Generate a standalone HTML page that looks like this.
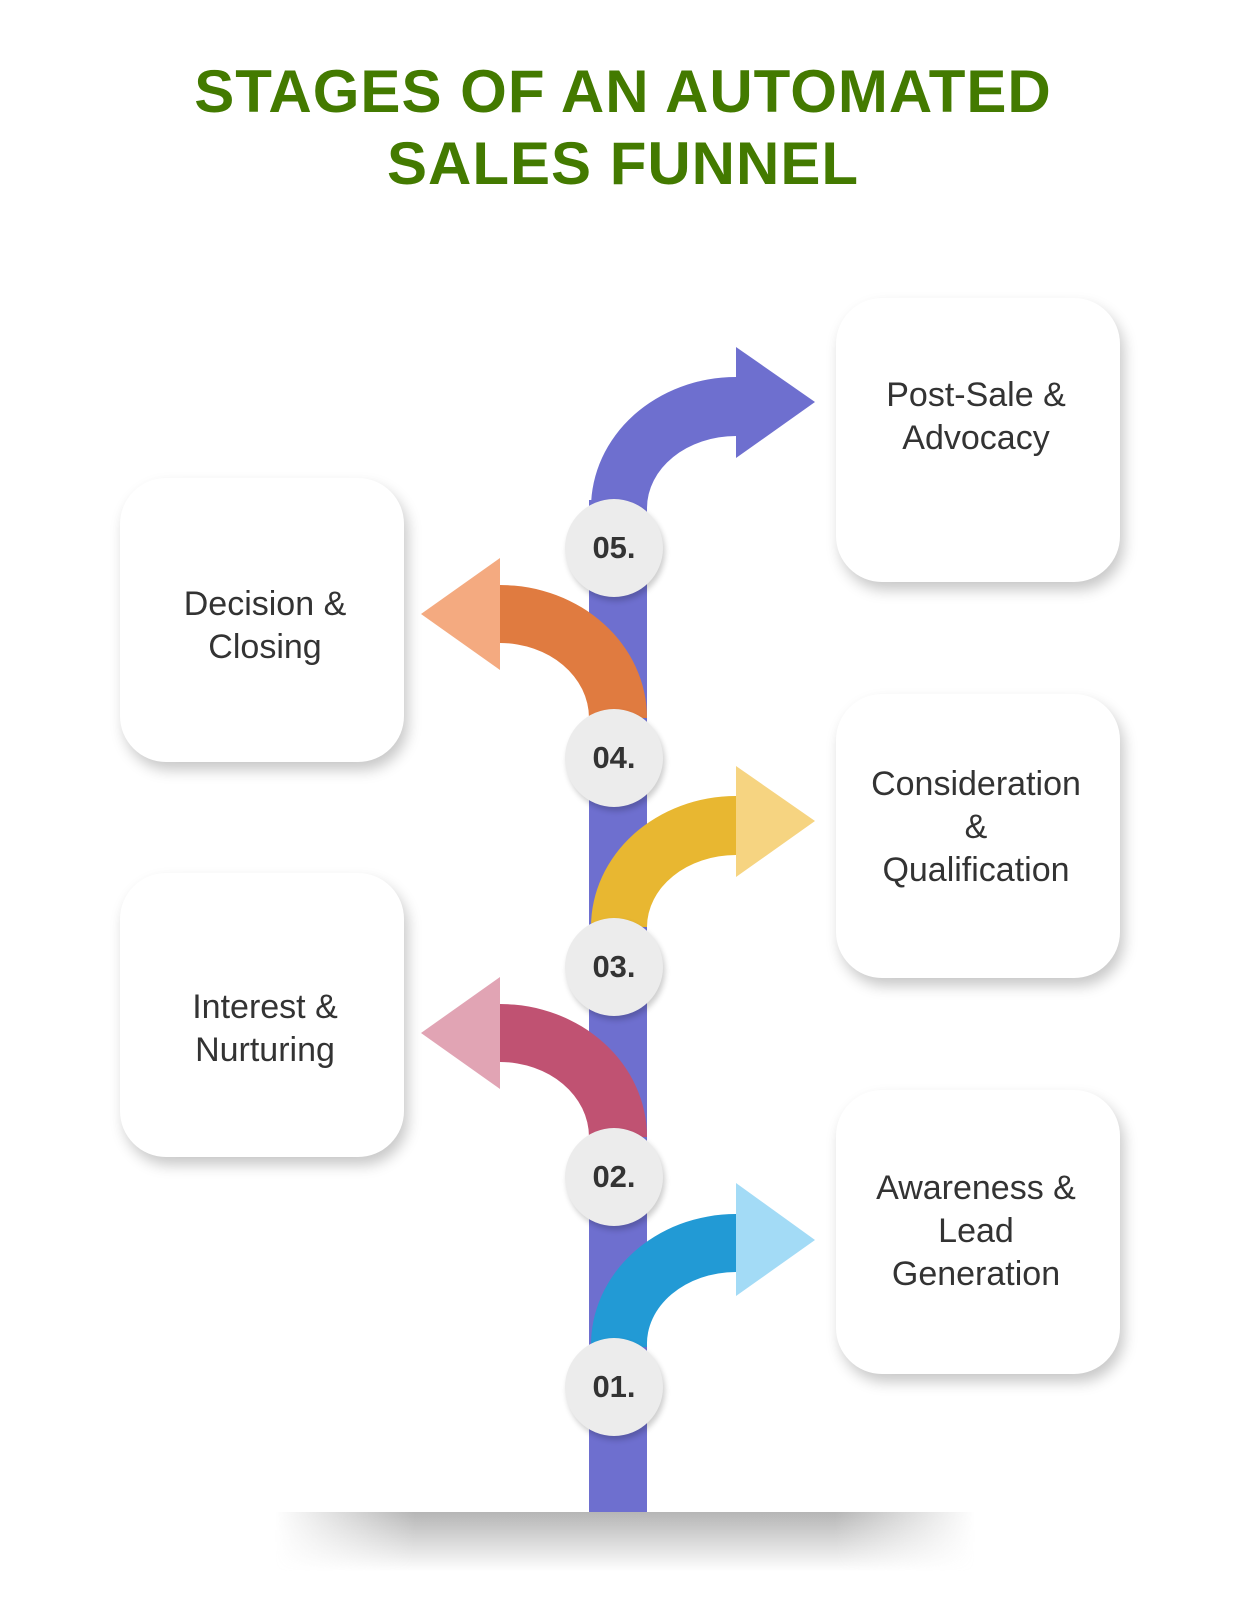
<!DOCTYPE html>
<html><head><meta charset="utf-8"><style>
html,body{margin:0;padding:0;background:#fff;}
body{width:1236px;height:1600px;position:relative;overflow:hidden;font-family:"Liberation Sans",sans-serif;}
.t{position:absolute;left:0;width:1236px;text-align:center;color:#437a00;font-weight:bold;font-size:60px;letter-spacing:1px;line-height:60px;}
.box{position:absolute;width:284px;height:284px;background:#fff;border-radius:46px;box-shadow:4px 8px 14px rgba(0,0,0,0.22);}
.lb{position:absolute;width:300px;text-align:center;font-size:34px;color:#333;line-height:43px;}
.n{position:absolute;width:98px;height:98px;border-radius:50%;background:#ececec;box-shadow:2px 4px 6px rgba(0,0,0,0.2);text-align:center;line-height:98px;font-weight:bold;font-size:31px;color:#333;}
</style></head><body>
<div class="t" style="top:62px;left:5px">STAGES OF AN AUTOMATED</div>
<div class="t" style="top:134px;left:5px">SALES FUNNEL</div>

<div style="position:absolute;left:275px;top:1512px;width:700px;height:60px;background:linear-gradient(#b5b5b5,rgba(255,255,255,0));-webkit-mask:linear-gradient(90deg,transparent,#000 20%,#000 80%,transparent);mask:linear-gradient(90deg,transparent,#000 20%,#000 80%,transparent);"></div>

<div class="box" style="left:836px;top:298px"></div>
<div class="box" style="left:836px;top:694px"></div>
<div class="box" style="left:836px;top:1090px"></div>
<div class="box" style="left:120px;top:478px"></div>
<div class="box" style="left:120px;top:873px"></div>

<div class="lb" style="left:826px;top:374px">Post-Sale &amp;<br>Advocacy</div>
<div class="lb" style="left:115px;top:583px">Decision &amp;<br>Closing</div>
<div class="lb" style="left:826px;top:763px">Consideration<br>&amp;<br>Qualification</div>
<div class="lb" style="left:115px;top:986px">Interest &amp;<br>Nurturing</div>
<div class="lb" style="left:826px;top:1167px">Awareness &amp;<br>Lead<br>Generation</div>

<svg width="1236" height="1600" style="position:absolute;left:0;top:0">
<rect x="589" y="500" width="58" height="1012" fill="#6e6fcf"/>
<!-- 05 right, cy 548 -->
<path d="M591,508 A145,131 0 0 1 736,377 L736,436 A89,72 0 0 0 647,508 Z" fill="#6e6fcf"/>
<polygon points="736,347 815,402 736,458" fill="#6e6fcf"/>
<!-- 04 left, cy 758 -->
<path d="M647,718 A147,133 0 0 0 500,585 L500,643 A89,75 0 0 1 589,718 Z" fill="#e07b40"/>
<polygon points="500,558 421,614 500,670" fill="#f4aa80"/>
<!-- 03 right, cy 967 -->
<path d="M591,927 A145,131 0 0 1 736,796 L736,855 A89,72 0 0 0 647,927 Z" fill="#e8b731"/>
<polygon points="736,766 815,821 736,877" fill="#f6d481"/>
<!-- 02 left, cy 1177 -->
<path d="M647,1137 A147,133 0 0 0 500,1004 L500,1062 A89,75 0 0 1 589,1137 Z" fill="#c05272"/>
<polygon points="500,977 421,1033 500,1089" fill="#e1a4b4"/>
<!-- 01 right, cy 1387 -->
<path d="M591,1347 A145,131 0 0 1 736,1214 L736,1272 A89,72 0 0 0 647,1347 Z" fill="#229ad5"/>
<polygon points="736,1183 815,1240 736,1296" fill="#a3dbf6"/>
</svg>

<div class="n" style="left:565px;top:499px">05.</div>
<div class="n" style="left:565px;top:709px">04.</div>
<div class="n" style="left:565px;top:918px">03.</div>
<div class="n" style="left:565px;top:1128px">02.</div>
<div class="n" style="left:565px;top:1338px">01.</div>
</body></html>
